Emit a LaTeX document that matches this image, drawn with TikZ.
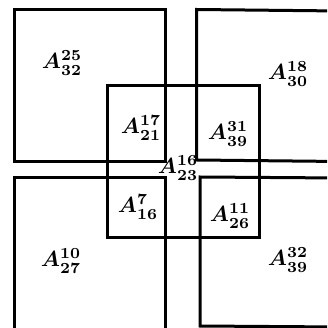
\documentclass[tikz,border=0pt]{standalone}
\usepackage{amsmath}
\begin{document}
\begin{tikzpicture}[x=1pt,y=-1pt,
  sq/.style={draw=black,line width=3pt,line join=miter},
  lab/.style={inner sep=0pt,scale=2.2,font=\boldmath}]
\useasboundingbox (0,0) rectangle (327,328);
\clip (0,0) rectangle (327,328);
\fill[white] (0,0) rectangle (327,328);
% squares
\draw[sq] (14,10) rectangle (165,162);
\draw[sq] (14,178) rectangle (165,345);
\draw[sq] (196.5,9.5) -- (340,11) -- (340,161.5) -- (196.5,160) -- cycle;
\draw[sq] (200,177) -- (340,178) -- (340,327) -- (200,326) -- cycle;
\draw[sq] (107,86) rectangle (259,237);
% labels
\node[lab] (a1) at (62,63) {$A^{25}_{32}$};
\node[lab] (a2) at (288,74) {$A^{18}_{30}$};
\node[lab] (a3) at (141,128) {$A^{17}_{21}$};
\node[lab] (a4) at (228,134) {$A^{31}_{39}$};
\node[lab] (a5) at (178,168) {$A^{16}_{23}$};
\node[lab] (a6) at (138,207) {$A^{7}_{16}$};
\node[lab] (a7) at (230,216) {$A^{11}_{26}$};
\node[lab] (a8) at (61,261) {$A^{10}_{27}$};
\node[lab] (a9) at (288,260) {$A^{32}_{39}$};
\end{tikzpicture}
\end{document}
